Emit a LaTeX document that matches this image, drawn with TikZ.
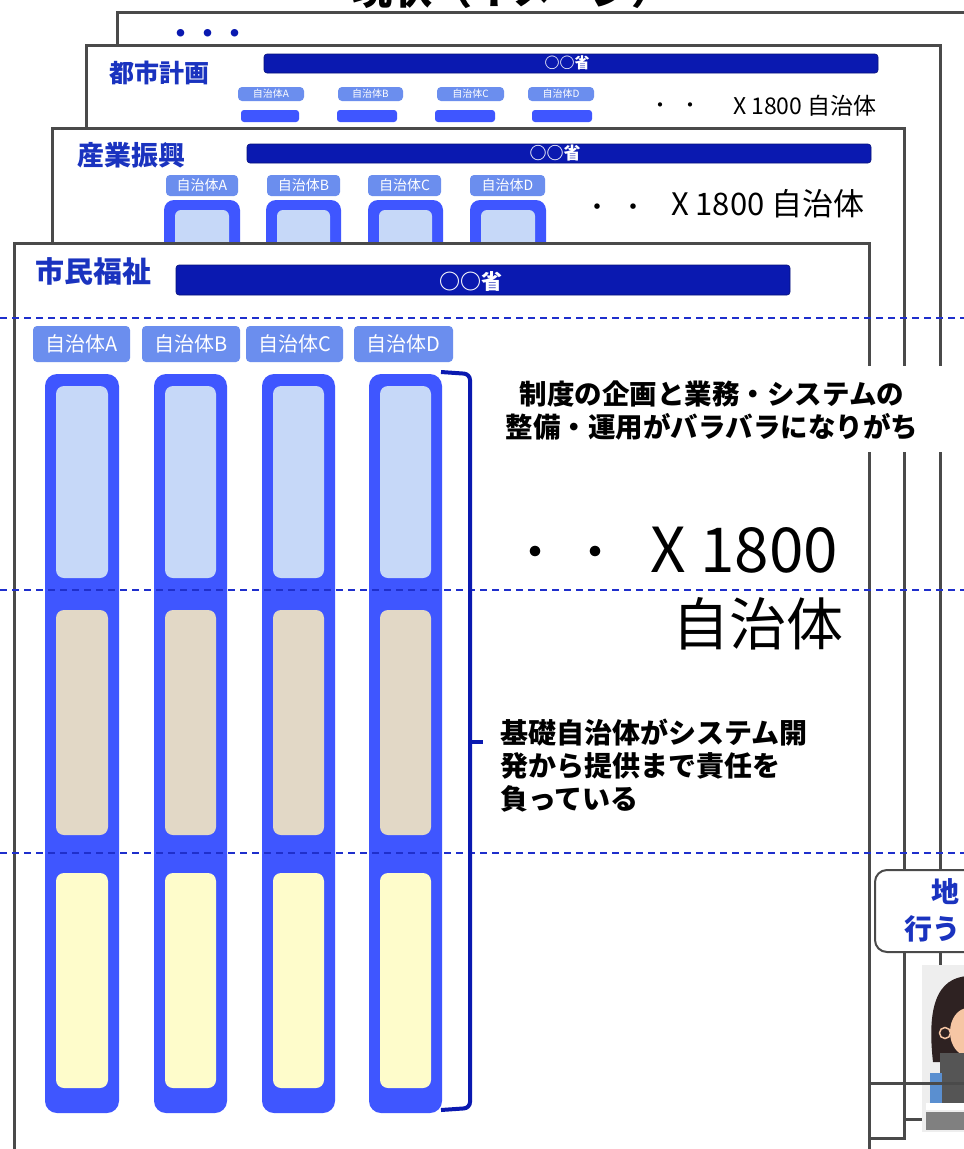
\documentclass[tikz,border=0pt]{standalone}
\usepackage{fontspec}
\newfontfamily\jp{Noto Sans CJK JP}
\newcommand\fsz[1]{\fontsize{#1}{#1}\selectfont}
\definecolor{framegray}{HTML}{4A4A4A}
\definecolor{headblue}{HTML}{1A33BF}
\definecolor{barblue}{HTML}{0A19B0}
\definecolor{tagblue}{HTML}{6B8EEE}
\definecolor{colblue}{HTML}{3F56FF}
\definecolor{cellblue}{HTML}{C6D8F8}
\definecolor{cellbeige}{HTML}{E2D8C6}
\definecolor{cellyellow}{HTML}{FEFCCB}
\definecolor{dashblue}{HTML}{1F2FCC}
\definecolor{imgbg}{HTML}{EEEEEE}
\definecolor{hair}{HTML}{2E2222}
\definecolor{skin}{HTML}{F6C6A4}
\definecolor{sweater}{HTML}{555555}
\definecolor{shoulder}{HTML}{5A8FD0}
\definecolor{desk}{HTML}{808080}
\begin{document}
\begin{tikzpicture}[x=1pt,y=-1pt,
  every node/.style={inner sep=0pt,outer sep=0pt},
  panel/.style={draw=framegray,line width=3pt,fill=white},
  heading/.style={font=\jp\bfseries,text=headblue},
  ministry/.style={fill=barblue,draw=barblue!70!black,line width=0.6pt,rounded corners=3pt},
  ministrytxt/.style={font=\jp\bfseries,text=white},
  tag/.style={fill=tagblue,rounded corners=4pt,text=white,font=\jp},
  column/.style={fill=colblue,rounded corners=12pt},
  cell/.style={rounded corners=8pt},
  divider/.style={draw=dashblue,line width=1.4pt,dash pattern=on 7pt off 5pt},
  note/.style={font=\jp\bfseries,text=black},
  big/.style={font=\jp,text=black},
  brace/.style={draw=barblue,line width=4pt},
]
\useasboundingbox (0,0) rectangle (964,1149);

% page title, mostly above the visible area
\node[font=\jp\bfseries,anchor=base] (title) at (512,4.5) {\fsz{40}現状（イメージ）};

% back-most panel
\draw[panel] (117,12) rectangle (1010,1083);
\node[font=\jp\bfseries,text=barblue,anchor=base] (more) at (208,43) {\fsz{27}・・・};

% panel: urban planning
\draw[panel] (86,45) rectangle (940,1119);
\node[heading,anchor=base west] (h3) at (109,82.5) {\fsz{25}都市計画};
\draw[ministry] (264,54) rectangle (878,73);
\node[ministrytxt,anchor=base] (m3) at (567,68.5) {\fsz{15}○○省};
\foreach \n/\a/\b/\c/\d in {A/238/304/241/299,B/338/403/337/397,C/437/504/435/495,D/528/594/532/592}{
  \node[tag,minimum width=\b-\a,minimum height=14pt] (t3\n) at ({(\a+\b)/2},94) {\fsz{10}自治体\n};
  \fill[colblue,rounded corners=3pt] (\c,110) rectangle (\d,122);
}
\node[big,anchor=base] (d3a) at (660,112) {\fsz{20}・};
\node[big,anchor=base] (d3b) at (690,112) {\fsz{20}・};
\node[big,anchor=base west] (n3) at (733,114) {\fsz{23}X 1800 自治体};

% panel: industrial promotion
\draw[panel] (52,128) rectangle (904,1138);
\node[heading,anchor=base west] (h2) at (77,165) {\fsz{27}産業振興};
\draw[ministry] (247,144) rectangle (871,163);
\node[ministrytxt,anchor=base] (m2) at (555,159.5) {\fsz{17}○○省};
\foreach \n/\a/\b/\c/\d in {A/166/238/164/240,B/267/340/266/341,C/368/441/368/443,D/470/545/470/546}{
  \node[tag,minimum width=\b-\a,minimum height=21pt] (t2\n) at ({(\a+\b)/2},185.5) {\fsz{14}自治体\n};
  \fill[column,rounded corners=10pt] (\c,200) rectangle (\d,270);
  \fill[cellblue,rounded corners=6pt] (\c+11,210) rectangle (\d-11,270);
}
\node[big,anchor=base] (d2a) at (597,216) {\fsz{26}・};
\node[big,anchor=base] (d2b) at (633,216) {\fsz{26}・};
\node[big,anchor=base west] (n2) at (671,215) {\fsz{31}X 1800 自治体};

% front panel: citizen welfare
\draw[panel] (14,243) rectangle (869,1200);
\node[heading,anchor=base west] (h1) at (35,282) {\fsz{29}市民福祉};
\draw[ministry] (176,265) rectangle (790,295);
\node[ministrytxt,anchor=base] (m1) at (471,289) {\fsz{21}○○省};

\foreach \n/\a/\b in {A/33/130,B/142/240,C/246/343,D/354/453}{
  \node[tag,minimum width=\b-\a,minimum height=36pt] (t1\n) at ({(\a+\b)/2},344) {\fsz{20}自治体\n};
}
\foreach \a/\b in {45/119,154/227,262/335,369/442}{
  \fill[column] (\a,374) rectangle (\b,1113);
  \fill[cellblue,cell] (\a+11,386) rectangle (\b-11,578);
  \fill[cellbeige,cell] (\a+11,610) rectangle (\b-11,835);
  \fill[cellyellow,cell] (\a+11,873) rectangle (\b-11,1088);
}

% layer dividers
\draw[divider] (0,318) -- (964,318);
\draw[divider] (0,590) -- (964,590);
\draw[divider] (0,853) -- (964,853);

% bracket spanning the columns
\draw[brace,rounded corners=6pt] (441,372) -- (470,374) -- (470,1108) -- (441,1110);
\draw[brace] (470,742) -- (483,742);

% notes
\fill[white] (498,366) rectangle (948,452);
\node[note,anchor=base] (p1) at (712,404) {\fsz{27.5}制度の企画と業務・システムの};
\node[note,anchor=base] (p2) at (712,437) {\fsz{27.5}整備・運用がバラバラになりがち};

\node[big,anchor=base] (b1) at (535,570) {\fsz{50}・};
\node[big,anchor=base] (b2) at (595,570) {\fsz{50}・};
\node[big,anchor=base east] (b3) at (838,572) {\fsz{62}X 1800};
\node[big,anchor=base east] (b4) at (843,645) {\fsz{57}自治体};

\node[note,anchor=base west] (q1) at (500,743) {\fsz{28}基礎自治体がシステム開};
\node[note,anchor=base west] (q2) at (500,776) {\fsz{28}発から提供まで責任を};
\node[note,anchor=base west] (q3) at (500,809) {\fsz{28}負っている};

% callout at the right edge
\draw[draw=framegray,line width=2pt,fill=white,rounded corners=12pt] (875,870) rectangle (1010,952);
\node[heading,anchor=base west] (c1) at (931,902) {\fsz{28}地};
\node[heading,anchor=base west] (c2) at (904,939) {\fsz{28}行う};

% operator illustration
\begin{scope}
  \clip (922,965) rectangle (964,1132);
  \fill[imgbg] (922,965) rectangle (964,1132);
  \fill[hair] (933,1062) .. controls (926,1000) and (940,974) .. (975,976) -- (975,1062) -- cycle;
  \fill[skin] (968,1032) ellipse (18pt and 24pt);
  \fill[sweater] (940,1053) rectangle (975,1103);
  \fill[shoulder] (930,1073) rectangle (942,1103);
  \fill[white] (926,1103) rectangle (975,1110);
  \fill[desk] (926,1112) rectangle (975,1130);
  \draw[fill=hair,draw=skin,line width=1.5pt] (945,1033) circle (5.5pt);
\end{scope}
\draw[draw=framegray,line width=3pt] (869,1083) -- (964,1083);
\end{tikzpicture}
\end{document}
